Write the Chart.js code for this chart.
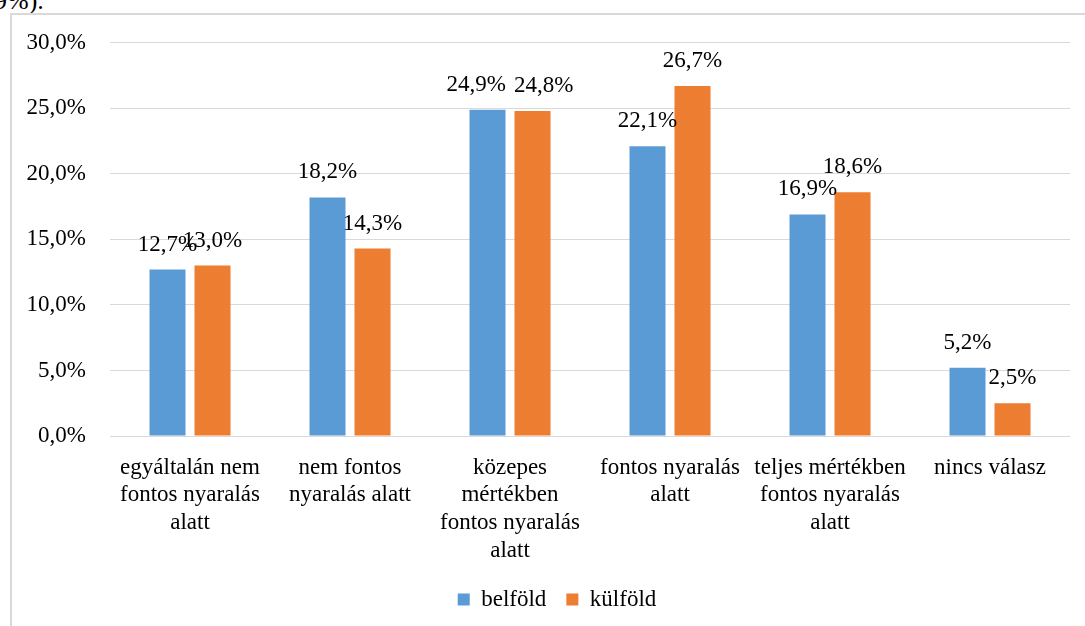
<!DOCTYPE html>
<html>
<head>
<meta charset="utf-8">
<script src="https://cdn.jsdelivr.net/npm/chart.js@4"></script>
<style>
    body { margin: 0; background: #fff; overflow: hidden; width: 1085px; height: 626px; position: relative; }
    #topText { position: absolute; left: -6px; top: -14px; font-family: "Liberation Serif", "Times New Roman", serif; font-size: 26px; color: #000; }
    #frame { position: absolute; left: 10px; top: 13px; width: 1200px; height: 700px; border: 2px solid #d9d9d9; }
    #chartBox { position: absolute; left: 12px; top: 5px; width: 1073px; height: 616px; }
</style>
</head>
<body>
<div id="topText">9%).</div>
<div id="frame"></div>
<div id="chartBox"><canvas id="barChart"></canvas></div>
<script>
var categories = [
    ["egyáltalán nem", "fontos nyaralás", "alatt"],
    ["nem fontos", "nyaralás alatt"],
    ["közepes", "mértékben", "fontos nyaralás", "alatt"],
    ["fontos nyaralás", "alatt"],
    ["teljes mértékben", "fontos nyaralás", "alatt"],
    ["nincs válasz"]
];
var belfold = [12.7, 18.2, 24.9, 22.1, 16.9, 5.2];
var kulfold = [13.0, 14.3, 24.8, 26.7, 18.6, 2.5];
var yTicks = [0, 5, 10, 15, 20, 25, 30];

var serif = '"Liberation Serif", "Times New Roman", serif';

function pct(v) {
    return v.toFixed(1).replace('.', ',') + '%';
}

// labels above each bar, pushed apart when two sit at the same height
var valueLabels = {
    id: 'valueLabels',
    afterDatasetsDraw: function (chart) {
        var ctx = chart.ctx;
        ctx.save();
        ctx.font = '23px ' + serif;
        ctx.fillStyle = '#000';
        ctx.textAlign = 'center';
        ctx.textBaseline = 'alphabetic';
        var a = chart.getDatasetMeta(0).data;
        var b = chart.getDatasetMeta(1).data;
        a.forEach(function (barA, j) {
            var barB = b[j];
            var ta = pct(belfold[j]), tb = pct(kulfold[j]);
            var xa = barA.x, xb = barB.x;
            if (Math.abs(barA.y - barB.y) < 3) {
                var need = (ctx.measureText(ta).width + ctx.measureText(tb).width) / 2 + 8;
                var push = Math.max(0, (need - (xb - xa)) / 2);
                xa -= push;
                xb += push;
            }
            ctx.fillText(ta, xa, barA.y - 19);
            ctx.fillText(tb, xb, barB.y - 19);
        });
        ctx.restore();
    }
};

// the original legend sits a little right of the plot centre
var legendShift = {
    id: 'legendShift',
    afterLayout: function (chart) {
        chart.legend.left += 16;
        chart.legend.right += 16;
    }
};

function drawChart() {
    var barCanvas = document.getElementById('barChart').getContext('2d');
    new Chart(barCanvas, {
        type: 'bar',
        data: {
            labels: categories,
            datasets: [
                {
                    label: 'belföld',
                    data: belfold,
                    backgroundColor: '#5B9BD5',
                    categoryPercentage: 0.5625,
                    barPercentage: 0.8
                },
                {
                    label: 'külföld',
                    data: kulfold,
                    backgroundColor: '#ED7D31',
                    categoryPercentage: 0.5625,
                    barPercentage: 0.8
                }
            ]
        },
        options: {
            responsive: true,
            maintainAspectRatio: false,
            animation: false,
            layout: { padding: { left: 0, right: 15, top: 0, bottom: 0 } },
            plugins: {
                tooltip: { enabled: false },
                legend: {
                    position: 'bottom',
                    labels: {
                        font: { family: serif, size: 23 },
                        color: '#000',
                        boxWidth: 12,
                        boxHeight: 12,
                        padding: 20
                    }
                }
            },
            scales: {
                x: {
                    grid: { display: false },
                    border: { display: false },
                    ticks: {
                        font: { family: serif, size: 23, lineHeight: 1.2 },
                        color: '#000',
                        maxRotation: 0,
                        autoSkip: false,
                        padding: 10
                    },
                    afterFit: function (scale) { scale.height = 132; }
                },
                y: {
                    min: 0,
                    max: 30,
                    afterBuildTicks: function (scale) {
                        scale.ticks = yTicks.map(function (v) { return { value: v }; });
                    },
                    grid: { color: '#d9d9d9', lineWidth: 1, drawTicks: false },
                    border: { display: false },
                    ticks: {
                        font: { family: serif, size: 23 },
                        color: '#000',
                        padding: 24,
                        callback: function (v) { return pct(v); }
                    },
                    afterFit: function (scale) { scale.width = 98; }
                }
            }
        },
        plugins: [valueLabels, legendShift]
    });
}

document.fonts.load('23px "Liberation Serif"').then(drawChart, drawChart);
</script>
</body>
</html>
